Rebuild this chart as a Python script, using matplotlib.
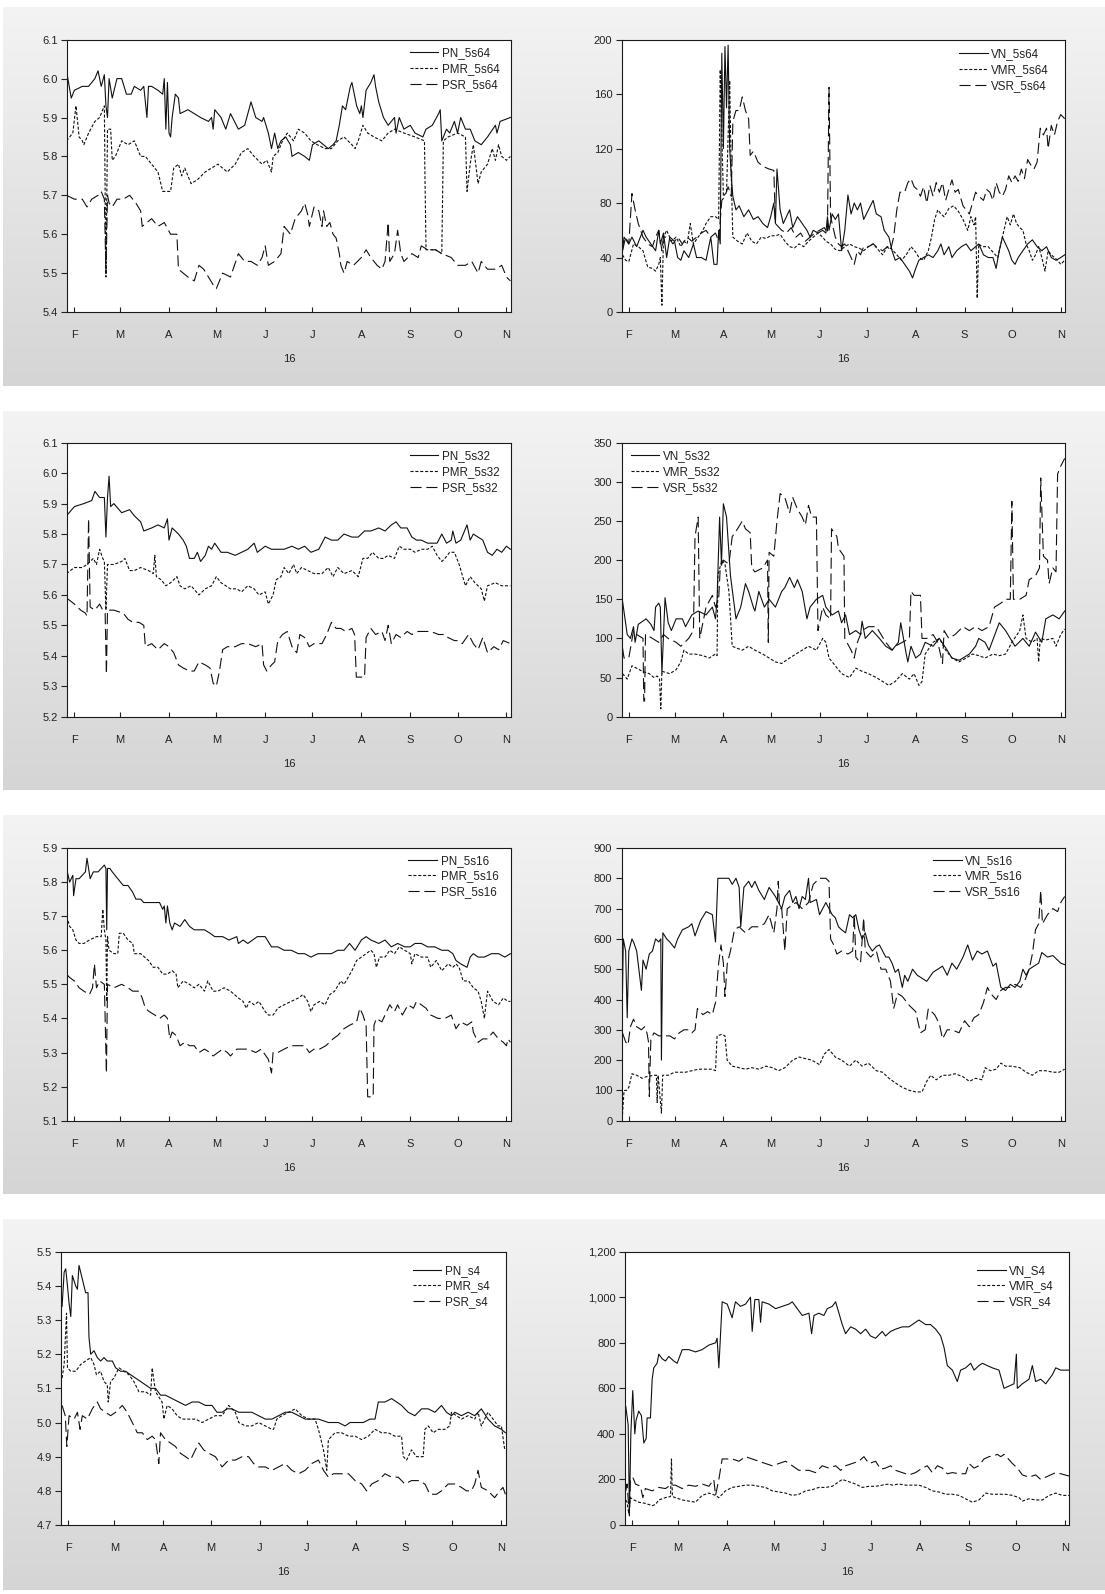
import matplotlib
matplotlib.use("Agg")
import matplotlib.pyplot as plt
import numpy as np

plt.rcParams['font.family'] = ['Liberation Sans', 'DejaVu Sans']
plt.rcParams['lines.scale_dashes'] = False

# ---------------- x axis (day of year 2016) ----------------
MONTH_DAYS = [31, 60, 91, 121, 152, 182, 213, 244, 274, 305]
MONTH_LABELS = ['F', 'M', 'A', 'M', 'J', 'J', 'A', 'S', 'O', 'N']
YEAR_LABEL = '16'
X_RANGE = (26.5, 307.7)

# ---------------- panel 1: prices 5s64 ----------------
PN_5s64 = [(26,6.02),(29,5.95),(31,5.97),(36,5.98),(40,5.98),(44,6.00),(46,6.02),(48,5.98),(50,6.01),(51,5.93),(52,5.90),(53,6.00),(55,5.95),(58,6.00),(61,6.00),(64,5.96),(67,5.96),(69,5.98),(73,5.97),(75,5.98),(77,5.90),(78,5.98),(80,5.98),(84,5.97),(87,5.96),(88,6.00),(89,5.87),(90,5.99),(91,5.86),(92,5.85),(93,5.90),(95,5.96),(97,5.95),(98,5.91),(103,5.92),(107,5.91),(111,5.90),(116,5.89),(118,5.90),(119,5.87),(120,5.92),(124,5.90),(127,5.87),(130,5.91),(135,5.87),(139,5.88),(141,5.91),(143,5.94),(146,5.90),(150,5.89),(151,5.90),(154,5.86),(156,5.82),(158,5.86),(160,5.82),(162,5.84),(165,5.85),(168,5.83),(169,5.80),(173,5.81),(177,5.80),(180,5.79),(182,5.83),(186,5.84),(189,5.83),(192,5.82),(195,5.83),(197,5.84),(199,5.88),(201,5.93),(203,5.92),(206,5.98),(207,5.99),(210,5.93),(212,5.91),(213,5.93),(214,5.90),(216,5.97),(219,5.99),(221,6.01),(222,5.98),(224,5.94),(227,5.90),(230,5.88),(234,5.90),(235,5.86),(237,5.90),(240,5.87),(244,5.88),(247,5.86),(252,5.85),(254,5.87),(258,5.88),(262,5.91),(263,5.92),(264,5.84),(267,5.87),(269,5.86),(272,5.89),(274,5.86),(276,5.90),(279,5.87),(282,5.87),(285,5.84),(289,5.83),(293,5.85),(298,5.88),(299,5.86),(301,5.89),(307.5,5.90)]
PMR_5s64 = [(26,5.84),(30,5.86),(32,5.93),(34,5.85),(36,5.84),(37,5.83),(40,5.86),(44,5.89),(47,5.90),(50,5.93),(51,5.49),(52,5.87),(54,5.87),(55,5.79),(57,5.80),(61,5.84),(65,5.83),(69,5.84),(73,5.80),(76,5.80),(80,5.78),(84,5.76),(87,5.71),(92,5.71),(94,5.77),(97,5.78),(99,5.75),(101,5.77),(105,5.73),(109,5.74),(114,5.76),(118,5.77),(122,5.78),(128,5.76),(133,5.78),(137,5.81),(141,5.82),(145,5.80),(150,5.78),(153,5.79),(156,5.76),(157,5.80),(160,5.81),(163,5.84),(166,5.86),(170,5.84),(173,5.87),(177,5.86),(181,5.84),(185,5.83),(190,5.82),(194,5.82),(198,5.84),(202,5.85),(207,5.83),(209,5.82),(211,5.84),(214,5.88),(217,5.86),(221,5.85),(226,5.84),(230,5.86),(234,5.87),(240,5.86),(247,5.85),(253,5.84),(254,5.56),(260,5.56),(264,5.55),(265,5.84),(268,5.85),(274,5.86),(279,5.85),(280,5.71),(282,5.78),(284,5.83),(287,5.73),(289,5.76),(293,5.78),(296,5.82),(298,5.79),(300,5.83),(302,5.80),(305,5.79),(307.5,5.80)]
PSR_5s64 = [(26,5.70),(31,5.69),(36,5.69),(39,5.67),(42,5.69),(46,5.70),(48,5.71),(50,5.69),(51,5.50),(52,5.70),(53,5.68),(55,5.67),(58,5.69),(62,5.69),(66,5.70),(70,5.68),(73,5.66),(74,5.62),(80,5.64),(84,5.62),(88,5.63),(92,5.60),(96,5.60),(97,5.51),(103,5.49),(107,5.48),(110,5.52),(113,5.51),(116,5.49),(119,5.47),(121,5.46),(125,5.50),(130,5.49),(135,5.55),(139,5.53),(143,5.53),(147,5.52),(150,5.54),(152,5.57),(154,5.52),(158,5.53),(162,5.55),(164,5.62),(168,5.60),(171,5.64),(175,5.66),(177,5.68),(179,5.65),(180,5.62),(183,5.67),(186,5.66),(188,5.62),(189,5.66),(191,5.62),(193,5.63),(195,5.60),(197,5.59),(199,5.55),(200,5.52),(202,5.50),(204,5.53),(208,5.52),(213,5.54),(216,5.56),(219,5.54),(223,5.52),(226,5.51),(228,5.53),(230,5.63),(231,5.53),(234,5.55),(236,5.61),(238,5.55),(240,5.53),(245,5.55),(249,5.54),(251,5.57),(255,5.56),(260,5.56),(264,5.55),(270,5.54),(274,5.52),(279,5.52),(283,5.53),(287,5.50),(289,5.53),(293,5.51),(298,5.51),(302,5.52),(305,5.49),(307.5,5.48)]

# ---------------- panel 2: volatility 5s64 ----------------
VN_5s64 = [(27,45),(28,55),(31,50),(33,55),(36,48),(40,60),(42,55),(45,50),(48,45),(50,60),(51,50),(53,58),(55,40),(57,55),(60,52),(62,40),(64,38),(66,45),(69,40),(72,50),(74,40),(77,40),(80,38),(83,55),(85,35),(87,35),(88,60),(89,50),(90,190),(91,120),(92,195),(93,150),(94,196),(95,120),(96,100),(97,85),(99,75),(101,78),(104,70),(107,75),(110,68),(113,70),(116,65),(119,62),(121,70),(123,80),(124,65),(125,105),(127,75),(129,65),(131,70),(133,75),(135,62),(138,70),(141,65),(144,60),(146,55),(148,60),(151,58),(154,60),(156,58),(157,70),(158,60),(160,72),(162,68),(164,72),(166,45),(168,60),(170,86),(172,72),(174,80),(176,75),(178,80),(180,68),(183,75),(186,82),(188,72),(191,70),(193,60),(196,55),(198,45),(200,38),(203,40),(206,35),(209,30),(211,25),(213,32),(215,38),(218,40),(221,42),(224,40),(227,45),(229,50),(231,42),(234,48),(236,40),(239,45),(242,48),(245,50),(248,45),(251,48),(253,50),(256,42),(259,40),(262,40),(264,32),(266,45),(268,55),(270,50),(272,45),(274,38),(276,35),(278,40),(281,45),(284,50),(287,53),(290,48),(293,45),(296,48),(299,40),(302,38),(305,40),(307.5,42)]
VMR_5s64 = [(27,42),(29,38),(31,37),(34,50),(37,48),(40,45),(43,33),(46,32),(48,30),(50,35),(51,40),(52,5),(53,55),(55,60),(58,52),(61,55),(64,48),(66,52),(68,50),(70,65),(72,50),(75,55),(78,60),(80,65),(83,70),(86,70),(88,68),(89,178),(91,85),(93,88),(95,170),(96,100),(97,55),(100,52),(103,50),(106,58),(109,52),(112,50),(115,55),(118,54),(121,56),(124,56),(127,57),(130,52),(133,48),(136,47),(139,50),(142,48),(145,52),(148,55),(151,58),(154,55),(156,52),(159,50),(162,46),(165,45),(168,48),(171,50),(174,48),(177,47),(180,45),(183,48),(186,50),(189,46),(192,42),(195,48),(198,46),(201,42),(204,38),(207,42),(210,48),(213,44),(215,40),(218,38),(221,45),(223,55),(225,68),(227,75),(229,72),(231,70),(234,76),(237,78),(240,74),(243,68),(246,60),(248,70),(250,64),(251,70),(252,10),(253,50),(255,48),(259,48),(262,44),(265,40),(267,50),(269,60),(271,70),(273,64),(275,72),(277,65),(279,62),(281,60),(283,50),(285,45),(287,38),(289,42),(291,48),(293,40),(295,30),(297,45),(299,42),(301,40),(303,38),(305,35),(307.5,38)]
VSR_5s64 = [(27,45),(29,55),(31,50),(33,87),(35,75),(37,65),(40,55),(43,50),(46,48),(48,55),(50,60),(52,45),(53,55),(56,55),(59,50),(62,55),(65,50),(68,55),(71,52),(74,55),(77,58),(80,60),(83,55),(86,58),(88,52),(90,82),(92,85),(94,92),(96,85),(97,140),(99,148),(101,148),(103,158),(105,148),(107,142),(108,115),(110,118),(113,110),(116,107),(120,105),(123,104),(124,65),(128,60),(131,58),(134,62),(137,55),(140,58),(143,52),(146,55),(149,58),(152,60),(155,62),(157,58),(158,165),(159,70),(162,55),(164,50),(166,48),(168,50),(170,45),(172,40),(174,35),(176,45),(178,42),(180,48),(183,48),(186,50),(189,47),(192,45),(195,48),(197,45),(199,55),(201,75),(203,88),(206,88),(208,95),(210,98),(212,92),(214,90),(216,85),(218,92),(220,80),(222,93),(224,85),(226,95),(228,88),(230,95),(232,82),(234,90),(236,97),(238,88),(240,90),(243,78),(245,75),(247,72),(249,80),(251,88),(253,85),(256,82),(258,90),(260,88),(262,82),(264,95),(266,88),(268,85),(270,90),(272,100),(274,95),(276,100),(278,96),(280,105),(282,98),(284,112),(286,108),(288,105),(290,110),(292,135),(294,130),(296,135),(297,120),(299,137),(301,130),(303,140),(305,145),(307.5,142)]

# ---------------- panel 3: prices 5s32 ----------------
PN_5s32 = [(26,5.86),(31,5.89),(37,5.90),(42,5.91),(44,5.94),(47,5.92),(50,5.92),(51,5.79),(52,5.92),(53,5.99),(54,5.89),(56,5.90),(61,5.87),(66,5.88),(69,5.86),(73,5.84),(75,5.81),(80,5.82),(84,5.83),(88,5.82),(90,5.85),(91,5.78),(93,5.82),(97,5.80),(100,5.78),(102,5.76),(104,5.72),(107,5.72),(109,5.74),(111,5.71),(114,5.73),(116,5.76),(118,5.75),(120,5.77),(124,5.74),(128,5.74),(133,5.73),(137,5.74),(141,5.75),(145,5.77),(147,5.74),(152,5.76),(156,5.75),(160,5.75),(164,5.75),(169,5.76),(173,5.75),(177,5.76),(181,5.74),(186,5.75),(190,5.79),(194,5.78),(198,5.78),(202,5.80),(207,5.79),(211,5.79),(215,5.81),(219,5.81),(224,5.82),(228,5.81),(232,5.83),(235,5.84),(238,5.82),(242,5.82),(245,5.79),(248,5.78),(251,5.78),(255,5.77),(261,5.77),(264,5.80),(267,5.77),(270,5.78),(271,5.81),(273,5.77),(276,5.78),(280,5.83),(282,5.78),(284,5.80),(287,5.79),(290,5.78),(293,5.74),(296,5.73),(299,5.75),(302,5.74),(305,5.76),(307.5,5.75)]
PMR_5s32 = [(26,5.67),(31,5.69),(36,5.69),(39,5.70),(43,5.72),(45,5.70),(47,5.75),(49,5.72),(50,5.71),(51,5.55),(52,5.70),(56,5.70),(61,5.71),(63,5.72),(66,5.68),(69,5.68),(73,5.69),(78,5.68),(81,5.67),(82,5.73),(83,5.66),(86,5.65),(89,5.63),(92,5.64),(96,5.66),(98,5.63),(101,5.62),(105,5.63),(110,5.60),(114,5.62),(118,5.63),(121,5.66),(124,5.64),(127,5.63),(130,5.62),(134,5.62),(137,5.61),(141,5.63),(145,5.62),(148,5.60),(152,5.61),(154,5.57),(157,5.60),(159,5.65),(162,5.66),(164,5.69),(167,5.67),(170,5.70),(172,5.67),(175,5.69),(179,5.68),(183,5.67),(188,5.67),(192,5.69),(195,5.66),(198,5.69),(202,5.67),(207,5.68),(211,5.66),(214,5.72),(217,5.72),(220,5.74),(224,5.72),(227,5.72),(230,5.73),(234,5.72),(237,5.76),(240,5.75),(244,5.75),(247,5.74),(251,5.75),(255,5.75),(258,5.76),(261,5.73),(264,5.71),(266,5.72),(269,5.74),(272,5.74),(275,5.70),(279,5.63),(282,5.66),(285,5.64),(289,5.62),(291,5.58),(293,5.63),(298,5.64),(302,5.63),(307.5,5.63)]
PSR_5s32 = [(26,5.59),(31,5.57),(35,5.55),(38,5.54),(39,5.53),(40,5.85),(41,5.56),(44,5.55),(47,5.57),(49,5.55),(50.5,5.54),(51.3,5.34),(52,5.55),(56,5.55),(62,5.54),(65,5.52),(68,5.51),(72,5.51),(75,5.50),(76,5.43),(80,5.44),(84,5.42),(88,5.44),(91,5.43),(94,5.41),(97,5.37),(100,5.36),(104,5.35),(107,5.35),(110,5.38),(114,5.37),(117,5.36),(119,5.31),(121,5.30),(123,5.35),(125,5.42),(128,5.43),(133,5.43),(137,5.44),(141,5.44),(146,5.43),(150,5.44),(151,5.37),(153,5.35),(156,5.37),(158,5.38),(160,5.45),(163,5.47),(166,5.48),(169,5.43),(172,5.41),(174,5.47),(177,5.46),(180,5.43),(183,5.44),(188,5.44),(191,5.47),(194,5.51),(197,5.49),(200,5.49),(203,5.48),(207,5.49),(208.7,5.47),(209.8,5.33),(213,5.33),(215,5.33),(216,5.46),(219,5.49),(222,5.47),(226,5.48),(228,5.45),(230,5.50),(232,5.44),(235,5.47),(238,5.46),(242,5.48),(245,5.47),(249,5.48),(253,5.48),(257,5.48),(262,5.47),(266,5.47),(268,5.46),(272,5.45),(274,5.45),(277,5.44),(281,5.47),(284,5.44),(287,5.42),(290,5.46),(293,5.41),(297,5.43),(300,5.42),(303,5.45),(307.5,5.44)]

# ---------------- panel 4: volatility 5s32 ----------------
VN_5s32 = [(27,148),(30,105),(32,100),(34,115),(35,95),(37,118),(42,125),(45,118),(47,110),(48,140),(50,145),(51,140),(52,55),(54,152),(56,120),(58,110),(61,125),(65,125),(67,115),(71,130),(75,135),(80,130),(84,140),(86,125),(87,150),(88.6,255),(89.8,195),(91,272),(93,255),(95.5,180),(99,125),(102,140),(105,170),(107,160),(110,140),(111,135),(113.5,160),(117,140),(120,150),(124,140),(128,160),(130,165),(133,178),(136,165),(138,175),(141,160),(144,125),(146,140),(150,150),(154,155),(156,140),(160,130),(164,135),(166,120),(168.5,130),(171,105),(175,110),(178,105),(179,122),(181,100),(185.5,110),(190,100),(194,90),(198,85),(200,90),(202,95),(203.5,120),(207,80),(208,70),(210,90),(213,75),(216,80),(219,95),(224,90),(228,100),(232,88),(236,75),(240.5,72),(247,80),(251,90),(253,100),(257,95),(259.5,85),(266,120),(270,110),(276,90),(281,100),(285,90),(289,108),(293,95),(295.5,125),(300,130),(304,125),(307.5,135)]
VMR_5s32 = [(27,55),(30,48),(33,65),(36,62),(39.5,58),(44,55),(47,50),(49,52),(50.5,48),(51.3,10),(52,58),(57,55),(61,60),(64,70),(66,85),(69,80),(73,80),(78,78),(82,75),(86,80),(87,78),(87.5,180),(90,200),(92,195),(94.5,160),(96.6,90),(99,88),(103,85),(107,90),(111,85),(116,80),(120,75),(124,70),(128,68),(133,75),(137,80),(141,85),(145,90),(150,85),(154,100),(156,95),(158,75),(162,65),(166,55),(171,50),(175,62),(179,58),(183,55),(188,50),(192,45),(196,40),(200,45),(204.5,55),(209,48),(212,55),(215,40),(217,45),(219,80),(224,95),(228,100),(232,85),(236,75),(240.5,70),(245,75),(249,80),(253,78),(257,75),(262,80),(266,78),(270,80),(274,95),(279,110),(281,130),(283,100),(287,95),(290,100),(291,70),(292,100),(295.5,98),(300,100),(302,90),(305,105),(307.5,112)]
VSR_5s32 = [(27,88),(28,75),(31,75),(34,110),(36,105),(40,100),(40.5,20),(41,20),(41.6,105),(46,100),(50,95),(53,105),(56,100),(61,95),(64,90),(69,100),(72,110),(73,230),(75,255),(76,100),(80,140),(84,155),(86,140),(88,150),(89,190),(91,200),(94.5,195),(96.6,230),(100,240),(103,250),(105,240),(108,235),(109,190),(111,185),(116,190),(119,200),(119.5,95),(120,210),(123,205),(125,250),(127,285),(130,280),(133,260),(135,280),(138,265),(141,255),(143,245),(145,270),(147,255),(150,255),(151,110),(154,140),(156,130),(159,125),(159.6,240),(163,230),(164,215),(167.5,205),(168,100),(172,85),(174,75),(176,95),(179,110),(183,115),(188,115),(191,105),(194,95),(198,85),(200,90),(204.5,95),(209,100),(210,160),(212,155),(216,155),(217,100),(220,100),(224,105),(227,95),(230,68),(231,110),(234,100),(238,105),(243,115),(247,110),(251,115),(255,110),(259.5,115),(263,140),(267,145),(270,150),(273,150),(274,275),(275,150),(279,150),(283,155),(285,175),(289,180),(291.5,190),(292.3,305),(294,205),(296.6,200),(297.6,170),(300,190),(302,185),(303,310),(305,320),(307.5,330)]

# ---------------- panel 5: prices 5s16 ----------------
PN_5s16 = [(26,5.84),(28,5.80),(30,5.82),(30.5,5.76),(32,5.81),(34,5.81),(36,5.82),(38,5.83),(39,5.87),(41,5.81),(43,5.83),(46,5.83),(48,5.84),(50,5.85),(51,5.84),(51.5,5.66),(52,5.84),(53.5,5.84),(55,5.83),(58.5,5.81),(62,5.79),(65,5.79),(68,5.77),(70,5.75),(73,5.75),(75,5.74),(80,5.74),(85,5.74),(87,5.72),(88,5.73),(89,5.68),(90,5.73),(91.5,5.68),(93,5.66),(94.5,5.68),(98,5.67),(101,5.69),(104,5.67),(107,5.66),(110,5.66),(113.5,5.66),(117,5.65),(120,5.64),(125,5.64),(129,5.63),(134,5.64),(135,5.62),(138,5.63),(141,5.62),(144,5.63),(147,5.64),(152,5.64),(156,5.61),(160,5.61),(164,5.60),(168.5,5.60),(173,5.59),(177,5.59),(181,5.58),(185.5,5.59),(190,5.59),(194,5.59),(198,5.60),(202,5.60),(205.5,5.62),(209,5.60),(213,5.63),(216,5.64),(219,5.63),(224,5.62),(228,5.63),(232,5.61),(236,5.62),(240.5,5.61),(244,5.61),(247,5.62),(251,5.62),(255,5.61),(259.5,5.61),(264,5.60),(268,5.60),(271,5.59),(273,5.57),(276,5.56),(280,5.55),(282,5.58),(284,5.59),(287,5.58),(291,5.58),(295.5,5.59),(300,5.59),(304,5.58),(307.5,5.59)]
PMR_5s16 = [(26,5.70),(28,5.67),(30,5.66),(32,5.63),(34,5.62),(37,5.62),(40.5,5.63),(45,5.64),(48,5.64),(49,5.72),(50,5.66),(51,5.63),(51.5,5.45),(52,5.64),(53,5.60),(56,5.59),(58.5,5.59),(59.5,5.65),(62,5.65),(65,5.63),(68,5.62),(69,5.59),(73,5.59),(78,5.57),(81,5.55),(84,5.55),(87,5.53),(90,5.53),(93,5.54),(95.5,5.53),(96.6,5.49),(100,5.51),(104,5.50),(107,5.49),(110,5.50),(113.5,5.48),(115.6,5.51),(119,5.48),(122,5.48),(126,5.49),(130,5.48),(135,5.46),(138,5.45),(140,5.43),(142,5.45),(145,5.44),(148,5.45),(152,5.42),(154,5.41),(157,5.41),(160,5.43),(164,5.44),(168.5,5.45),(173,5.46),(176,5.47),(179,5.45),(181,5.42),(183,5.44),(186.5,5.45),(190,5.44),(193,5.47),(196,5.48),(200,5.51),(202,5.50),(207,5.54),(210,5.57),(213,5.58),(216,5.59),(219,5.60),(221,5.59),(222.5,5.55),(224.5,5.58),(228,5.58),(231,5.60),(234,5.59),(237,5.61),(240.5,5.60),(244,5.59),(245,5.56),(247,5.59),(251,5.58),(255,5.58),(257,5.55),(260.5,5.57),(264,5.54),(268,5.56),(271,5.55),(273,5.56),(275,5.55),(277.5,5.51),(281,5.51),(284,5.49),(287,5.48),(289,5.45),(291,5.40),(293,5.48),(296.5,5.45),(300,5.44),(303,5.46),(306,5.45),(307.5,5.45)]
PSR_5s16 = [(26,5.53),(28,5.52),(31,5.51),(34,5.49),(37,5.48),(40.5,5.47),(42.5,5.49),(43.7,5.56),(45,5.49),(47,5.51),(50,5.50),(51.3,5.24),(52,5.50),(56,5.49),(61,5.50),(65,5.49),(68,5.48),(72,5.48),(74,5.46),(76,5.43),(78.5,5.42),(82,5.41),(85,5.40),(88,5.41),(90,5.40),(91.5,5.34),(93,5.36),(95.5,5.35),(98,5.32),(101,5.33),(104,5.32),(107,5.32),(110,5.30),(113.5,5.31),(117,5.30),(119,5.29),(122,5.30),(125,5.31),(128,5.30),(130,5.29),(134,5.31),(137,5.31),(141,5.31),(146,5.30),(149.5,5.31),(154,5.28),(156,5.24),(157,5.30),(160,5.30),(164,5.31),(168.5,5.32),(173,5.32),(177,5.32),(180,5.30),(183,5.31),(186.5,5.31),(190.5,5.32),(195,5.34),(198,5.35),(202,5.37),(205.5,5.38),(210,5.39),(212,5.43),(214,5.41),(216,5.38),(217,5.17),(220.5,5.17),(221,5.38),(222.5,5.40),(226,5.39),(229,5.42),(231,5.44),(234,5.42),(236,5.44),(239,5.41),(242.6,5.44),(246,5.43),(248,5.45),(251,5.44),(254,5.43),(257,5.41),(261.6,5.40),(266,5.40),(270,5.41),(273,5.37),(276,5.39),(280,5.38),(283,5.39),(284,5.36),(287,5.33),(290,5.34),(293,5.34),(296.5,5.36),(300,5.34),(303,5.33),(305,5.32),(306,5.34),(307.5,5.33)]

# ---------------- panel 6: volatility 5s16 ----------------
VN_5s16 = [(27,420),(27.5,600),(29,560),(30,340),(31,560),(33,600),(34,590),(36,560),(39,430),(40,530),(42,500),(44,550),(46,560),(48,600),(50,590),(51.3,600),(51.7,200),(52.6,620),(55,600),(57,590),(60,570),(62,600),(65,630),(69,640),(71,650),(73,610),(76.5,660),(80,690),(84,680),(86,590),(87.5,800),(90,800),(94.5,800),(96.6,780),(99,800),(101,770),(102,640),(104,770),(107,790),(109,770),(111,790),(113.5,760),(117,730),(120,770),(124,740),(128,700),(130,740),(133,760),(135,720),(137,740),(139,700),(141,740),(143,730),(145,800),(146,720),(150,730),(152,680),(154,700),(156,720),(158,700),(160,680),(162,670),(164,640),(166,630),(168.5,620),(171,680),(173,670),(175,680),(177,630),(179,600),(181,620),(183,580),(185.5,560),(188,575),(190,580),(192,560),(194,540),(196,540),(198,520),(200,490),(202,500),(204.5,440),(206,480),(208,460),(211,500),(214,480),(217,470),(220,460),(224,490),(227,500),(230,510),(233,480),(236,520),(239,500),(243,540),(246,580),(249,530),(252,560),(255,550),(258.5,560),(262,510),(264,520),(267,440),(270,430),(273,450),(276,440),(279,460),(281,500),(283,480),(285,500),(288,510),(291,520),(293,555),(296.6,540),(300,545),(303,530),(305,520),(307.5,515)]
VMR_5s16 = [(27,20),(28,100),(29.5,100),(31,110),(33,155),(36,150),(39.5,140),(42,145),(47,150),(48.5,150),(49,60),(49.6,150),(51.7,25),(52.5,150),(56,150),(60,160),(63,160),(67,160),(71,165),(75.4,170),(80,170),(84,170),(86,165),(87,280),(90,285),(92,280),(93.4,200),(96.6,180),(101,175),(105,170),(109,175),(113.5,170),(118,180),(122,175),(126,165),(130,175),(135,200),(139,210),(143,205),(147,200),(152,185),(155,220),(158,235),(162,210),(166,200),(171,180),(175,200),(179,180),(183,190),(188,165),(192,160),(196,140),(200,125),(204.5,110),(209,100),(213,95),(217,95),(220,130),(222.5,150),(226,135),(230,150),(234,150),(238,155),(243,145),(247,130),(251,140),(255,135),(257,175),(260.5,165),(264,170),(267,190),(270,180),(274,180),(279,175),(283,160),(287,150),(291,165),(295.5,165),(300,160),(304,160),(307.5,170)]
VSR_5s16 = [(27,290),(29,260),(30.5,250),(32,310),(34,335),(36,310),(39,300),(41,310),(42.5,290),(43.5,260),(44,80),(45,270),(47,290),(50,280),(52,280),(54,280),(57,280),(60,270),(63,290),(66,300),(69,300),(71,290),(73,300),(74.5,370),(78,350),(81,360),(84,350),(86,390),(88,520),(89.5,580),(91,520),(92,410),(93.5,520),(95.5,560),(98,630),(101,640),(105,620),(109,640),(113.5,640),(117,650),(120,680),(123,620),(125,700),(125.8,790),(126.7,700),(128,700),(130,560),(131.5,700),(137,720),(141,700),(145,720),(148,780),(152,800),(156,800),(158,790),(159,600),(161,580),(163,550),(166,560),(170,550),(173,560),(174,680),(175,540),(178,520),(180,670),(181,560),(184.5,540),(188,560),(191,500),(194,500),(197,460),(199,370),(201.5,420),(204.5,410),(209,380),(213,360),(216,290),(219,300),(221,370),(225,350),(228,320),(230,270),(233,300),(236,300),(240.5,290),(244,330),(247,310),(250,340),(253,350),(256,390),(258.5,440),(260.5,420),(264,400),(267,430),(270,440),(273,440),(276,450),(279.6,440),(282,460),(285,500),(287,550),(289,630),(291,650),(292.3,760),(293.4,650),(296.6,680),(300,700),(303,690),(305,720),(307.5,740)]

# ---------------- panel 7: prices s4 ----------------
PN_s4 = [(27,5.34),(28.3,5.44),(29.3,5.45),(30.4,5.40),(31.4,5.35),(32.5,5.31),(33.5,5.43),(35.6,5.40),(36.7,5.39),(37.7,5.46),(39.8,5.42),(41.9,5.38),(43.4,5.38),(44,5.25),(45.1,5.20),(47.2,5.21),(49.3,5.19),(51.4,5.18),(53.5,5.19),(55.6,5.18),(58.8,5.18),(60.9,5.16),(64,5.15),(67.2,5.15),(70.3,5.14),(73.5,5.13),(76.7,5.12),(79.8,5.11),(83,5.10),(86.1,5.10),(89.3,5.08),(92.4,5.08),(96.6,5.07),(100.9,5.06),(105.1,5.05),(109.3,5.06),(113.5,5.06),(117.7,5.05),(121.9,5.05),(125,5.03),(128.2,5.03),(131.4,5.04),(134.5,5.04),(138.8,5.03),(143,5.03),(147.1,5.03),(151.3,5.02),(155.6,5.01),(159.8,5.01),(164,5.02),(168.2,5.03),(172.4,5.03),(176.6,5.02),(180.8,5.01),(185,5.01),(189.2,5.01),(195.5,5.00),(201.8,5.00),(206.1,4.99),(209.2,5.00),(213.4,5.00),(217.6,5.00),(221.8,5.01),(225,5.01),(227.1,5.06),(231.3,5.06),(235.5,5.07),(238.7,5.06),(241.8,5.05),(246,5.03),(250.2,5.02),(254.5,5.04),(258.7,5.04),(262.9,5.03),(267.1,5.05),(270.2,5.03),(273.4,5.02),(275.5,5.03),(279.7,5.02),(283.9,5.03),(288.1,5.02),(292.3,5.04),(296.5,5.01),(300.7,4.99),(305,4.98),(307.5,4.97)]
PMR_s4 = [(27,5.13),(28.3,5.17),(29.8,5.32),(30.4,5.16),(32.5,5.15),(35.6,5.15),(38.8,5.17),(41.9,5.18),(45.1,5.19),(47.2,5.17),(48.7,5.14),(51.4,5.15),(53.5,5.12),(55.6,5.11),(56.2,5.06),(57.7,5.12),(59.8,5.13),(63,5.16),(66.1,5.15),(69.3,5.14),(72.4,5.12),(75.6,5.09),(79.8,5.09),(83,5.08),(84,5.16),(86.1,5.09),(90.3,5.06),(91.4,5.01),(93.5,5.05),(96.6,5.04),(99.8,5.02),(103,5.01),(107.2,5.01),(111.4,5.01),(115.6,5.00),(119.8,5.01),(124,5.02),(128.2,5.02),(132.4,5.05),(136.6,5.03),(138.8,5.00),(143,4.99),(147.1,4.99),(151.3,5.00),(155.6,4.99),(159.8,4.98),(160.8,4.98),(162.9,5.01),(166.1,5.02),(170.3,5.03),(174.5,5.04),(178.7,5.02),(182.9,5.01),(187.1,5.01),(189.2,4.98),(192.4,4.92),(194.5,4.86),(195.5,4.95),(199.7,4.97),(203.9,4.97),(208.2,4.96),(212.4,4.96),(216.6,4.95),(220.8,4.96),(225,4.98),(229.2,4.97),(233.4,4.97),(237.6,4.96),(241.8,4.96),(242.9,4.90),(245,4.89),(248.1,4.92),(251.3,4.90),(255.5,4.90),(256.6,4.98),(258.7,4.99),(261.8,4.97),(265,4.98),(269.2,4.98),(272.3,4.99),(273.4,5.03),(276.5,5.02),(279.7,5.01),(283.9,5.02),(288.1,5.01),(290.2,5.03),(292.3,4.99),(296.5,5.03),(299.7,5.01),(302.8,4.99),(305,4.99),(307.1,4.92)]
PSR_s4 = [(27,5.05),(29,5.02),(30,4.93),(31.4,5.02),(34.6,5.01),(36.7,5.03),(38.4,4.98),(39.8,5.02),(43,5.01),(46.1,5.04),(49.3,5.06),(51.4,5.04),(54.6,5.03),(57.7,5.02),(60.9,5.03),(65.1,5.05),(68.2,5.03),(71.4,5.00),(74.6,4.97),(77.7,4.97),(80.9,4.95),(84,4.96),(86.1,4.95),(88.2,4.88),(89.3,4.97),(92.4,4.95),(95.6,4.94),(98.7,4.93),(101.9,4.91),(105.1,4.90),(108.2,4.89),(110.3,4.91),(113.5,4.94),(116.6,4.92),(119.8,4.91),(124,4.90),(128.2,4.87),(132.4,4.89),(136.6,4.89),(140.9,4.90),(145,4.90),(148.2,4.88),(151.3,4.87),(155.6,4.87),(159.8,4.86),(164,4.87),(168.2,4.88),(172.4,4.86),(176.6,4.85),(180.8,4.86),(185,4.88),(189.2,4.89),(192.4,4.86),(195.5,4.84),(198.7,4.85),(203.9,4.85),(208.2,4.85),(212.4,4.83),(216.6,4.82),(219.7,4.80),(222.9,4.82),(227.1,4.83),(231.3,4.85),(235.5,4.84),(239.7,4.84),(243.9,4.82),(248.1,4.83),(252.4,4.83),(256.6,4.82),(259.7,4.79),(263.9,4.79),(267.1,4.80),(271.3,4.82),(275.5,4.82),(279.7,4.81),(282.8,4.80),(286,4.80),(288.1,4.82),(290.2,4.86),(292.3,4.81),(296.5,4.80),(300.7,4.78),(303.9,4.80),(306,4.81),(307.5,4.79)]

# ---------------- panel 8: volatility s4 ----------------
VN_S4 = [(27,520),(28.5,440),(29.3,50),(30.2,400),(31.4,590),(32.7,400),(33.5,460),(35.2,500),(36.9,480),(38.4,360),(39.9,380),(40.5,470),(42.6,470),(43.7,640),(44.7,690),(46.8,710),(47.9,750),(50,730),(52.1,720),(54.2,740),(57.4,720),(59.5,710),(62.7,770),(66.9,770),(71.1,760),(75.3,770),(79.6,790),(83.8,800),(84.8,820),(85.9,690),(88,980),(91.2,970),(94.3,910),(96.4,980),(99.6,960),(102.8,970),(105.9,1000),(107,850),(108.7,990),(111.2,990),(112.3,890),(113.3,980),(117.6,970),(121.8,950),(126,960),(130.3,970),(132.4,980),(135.5,950),(138.7,920),(142.9,930),(144.6,840),(146.1,920),(149.2,930),(152.4,920),(154.5,950),(157.7,960),(159.8,980),(161.9,930),(164,880),(166.1,840),(169.3,870),(172.4,860),(175.6,840),(178.8,860),(181.9,830),(185.1,820),(189.3,850),(191.4,830),(194.6,850),(197.8,860),(202,870),(206.2,870),(210.4,890),(212.5,900),(216.8,880),(219.9,880),(223.1,860),(226.3,830),(228.4,780),(230.5,700),(233.7,680),(236.8,630),(238.9,680),(242.1,690),(245.3,710),(247.4,680),(250.5,700),(252.7,710),(255.8,700),(259,690),(263.2,680),(266.4,600),(269.5,610),(272.7,620),(274.2,750),(274.8,600),(278,620),(282.2,640),(284.3,700),(286.4,630),(289.6,640),(292.8,620),(297,660),(299.1,690),(302.3,680),(307.5,680)]
VMR_s4 = [(27,110),(27.8,100),(28.9,50),(29.9,120),(32.1,110),(35.2,100),(39.4,95),(43.7,85),(45.8,90),(47.9,110),(52.1,120),(55.3,125),(55.9,290),(56.5,125),(58.4,120),(62.7,110),(66.9,105),(71.1,100),(75.3,130),(79.6,140),(83.8,130),(85.9,120),(90.1,150),(94.3,165),(98.6,170),(102.8,175),(107,175),(111.2,170),(115.4,165),(119.7,150),(123.9,145),(128.1,140),(132.4,130),(136.6,135),(140.8,150),(145,155),(149.2,165),(153.4,165),(157.7,170),(161.9,190),(164,200),(168.2,190),(172.4,180),(176.7,165),(180.9,170),(185.1,170),(189.3,175),(193.5,180),(195.7,175),(199.9,180),(204.1,175),(208.3,175),(212.5,175),(216.8,165),(221,150),(225.2,145),(229.4,135),(233.7,135),(237.9,130),(242.1,115),(246.3,100),(250.5,110),(254.8,140),(259,135),(263.2,135),(267.4,135),(271.7,130),(275.9,120),(278,105),(282.2,115),(286.4,110),(290.7,110),(294.9,130),(299.1,140),(303.3,130),(307.5,130)]
VSR_s4 = [(27,150),(27.8,180),(29.3,40),(29.9,200),(31.4,210),(33.1,180),(36.3,170),(37.8,120),(39.4,160),(43.7,150),(47.9,165),(52.1,160),(55.3,175),(58.4,175),(62.7,160),(66.9,175),(71.1,170),(75.3,180),(79.6,170),(82.7,200),(83.8,130),(85.9,200),(88,290),(90.1,290),(94.3,290),(98.6,280),(102.8,300),(107,290),(111.2,280),(115.4,270),(119.7,260),(123.9,270),(128.1,280),(132.4,260),(136.6,240),(142.9,240),(147.1,230),(151.3,260),(155.5,250),(159.8,260),(163,240),(166.1,260),(170.3,270),(174.5,280),(177.7,300),(180.9,270),(185.1,280),(188.3,245),(191.4,250),(194.6,260),(197.8,240),(202,230),(206.2,220),(210.4,230),(214.7,250),(217.8,260),(221,230),(224.2,260),(227.3,250),(230.5,225),(233.7,230),(237.9,225),(242.1,225),(244.2,270),(247.4,250),(250.5,260),(253.7,290),(256.9,300),(260.1,305),(262.2,310),(264.3,300),(266.4,310),(268.5,295),(271.7,270),(274.8,250),(278,220),(282.2,210),(286.4,220),(289.6,200),(292.8,210),(295.9,220),(299.1,230),(302.3,225),(307.5,215)]

# ---------------- panel definitions ----------------
PANELS = [
    dict(names=['PN_5s64', 'PMR_5s64', 'PSR_5s64'], data=[PN_5s64, PMR_5s64, PSR_5s64],
         ylim=(5.4, 6.1), ystep=0.1, fmt='{:.1f}', leg='upper right', anchor=(0.975, 0.972)),
    dict(names=['VN_5s64', 'VMR_5s64', 'VSR_5s64'], data=[VN_5s64, VMR_5s64, VSR_5s64],
         ylim=(0, 200), ystep=40, fmt='{:.0f}', leg='upper right', anchor=(0.964, 0.968)),
    dict(names=['PN_5s32', 'PMR_5s32', 'PSR_5s32'], data=[PN_5s32, PMR_5s32, PSR_5s32],
         ylim=(5.2, 6.1), ystep=0.1, fmt='{:.1f}', leg='upper right', anchor=(0.975, 0.972)),
    dict(names=['VN_5s32', 'VMR_5s32', 'VSR_5s32'], data=[VN_5s32, VMR_5s32, VSR_5s32],
         ylim=(0, 350), ystep=50, fmt='{:.0f}', leg='upper left', anchor=(0.02, 0.972)),
    dict(names=['PN_5s16', 'PMR_5s16', 'PSR_5s16'], data=[PN_5s16, PMR_5s16, PSR_5s16],
         ylim=(5.1, 5.9), ystep=0.1, fmt='{:.1f}', leg='upper right', anchor=(0.972, 0.975)),
    dict(names=['VN_5s16', 'VMR_5s16', 'VSR_5s16'], data=[VN_5s16, VMR_5s16, VSR_5s16],
         ylim=(0, 900), ystep=100, fmt='{:.0f}', leg='upper right', anchor=(0.905, 0.975)),
    dict(names=['PN_s4', 'PMR_s4', 'PSR_s4'], data=[PN_s4, PMR_s4, PSR_s4],
         ylim=(4.7, 5.5), ystep=0.1, fmt='{:.1f}', leg='upper right', anchor=(0.964, 0.952)),
    dict(names=['VN_S4', 'VMR_s4', 'VSR_s4'], data=[VN_S4, VMR_s4, VSR_s4],
         ylim=(0, 1200), ystep=200, fmt='{:,.0f}', leg='upper right', anchor=(0.966, 0.952)),
]

# layout (pixels)
W, H = 1105, 1594
AX_BOXES = [
    (67.3, 39.7, 510.7, 312.0), (621.7, 39.7, 1065.0, 312.0),
    (67.3, 442.7, 510.7, 716.7), (621.7, 442.7, 1065.0, 716.7),
    (67.3, 848.0, 510.7, 1120.7), (621.7, 848.0, 1065.0, 1120.7),
    (61.3, 1251.7, 505.7, 1525.0), (625.0, 1251.7, 1069.3, 1525.0),
]
ROW_BOXES = [(3, 7, 1105, 386), (3, 411, 1105, 790), (3, 815, 1105, 1194), (3, 1219, 1105, 1590)]

STYLES = ['-', (0, (2.2, 1.3)), (0, (8.0, 3.4))]
LINE_COLOR = '#111111'
TEXT_COLOR = '#222222'
FS = 8.0
LEG_FS = 8.4

fig = plt.figure(figsize=(W / 100, H / 100), dpi=100)
fig.patch.set_facecolor('white')

def fig_rect(x0, y0, x1, y1):
    return [x0 / W, 1 - y1 / H, (x1 - x0) / W, (y1 - y0) / H]

# gradient backgrounds
grad = np.linspace(0.955, 0.835, 256).reshape(-1, 1)
grad_rgb = np.dstack([grad, grad, grad])
for box in ROW_BOXES:
    bg = fig.add_axes(fig_rect(*box), zorder=0)
    bg.imshow(grad_rgb, aspect='auto', interpolation='bilinear')
    bg.set_axis_off()

for spec, box in zip(PANELS, AX_BOXES):
    ax = fig.add_axes(fig_rect(*box), zorder=2)
    ax.set_facecolor('white')
    handles = []
    for series, name, ls in zip(spec['data'], spec['names'], STYLES):
        d = np.array(series, dtype=float)
        ln, = ax.plot(d[:, 0], d[:, 1], color=LINE_COLOR, lw=0.8, linestyle=ls, label=name)
        handles.append(ln)
    ax.set_xlim(*X_RANGE)
    lo, hi = spec['ylim']
    ax.set_ylim(lo, hi)
    yt = np.arange(lo, hi + spec['ystep'] / 2, spec['ystep'])
    ax.set_yticks(yt)
    ax.set_yticklabels([spec['fmt'].format(v) for v in yt])
    ax.set_xticks(MONTH_DAYS)
    ax.set_xticklabels(MONTH_LABELS)
    ax.tick_params(axis='y', direction='out', length=4.3, width=0.8, pad=2.5,
                   labelsize=FS, colors=TEXT_COLOR)
    ax.tick_params(axis='x', direction='in', length=3.5, width=0.8, pad=13.0,
                   labelsize=FS, colors=TEXT_COLOR)
    for sp in ax.spines.values():
        sp.set_color('#1a1a1a')
        sp.set_linewidth(0.8)
    ax.annotate(YEAR_LABEL, xy=(0.5, 0), xycoords='axes fraction', xytext=(0, -47),
                textcoords='offset pixels', ha='center', va='center', fontsize=FS,
                color=TEXT_COLOR)
    ax.legend(handles=handles, loc=spec['leg'], bbox_to_anchor=spec['anchor'],
              frameon=False, fontsize=LEG_FS, handlelength=2.45, handletextpad=0.3,
              labelspacing=0.32, borderpad=0, borderaxespad=0, labelcolor=TEXT_COLOR)

fig.savefig('out.png', dpi=100, facecolor='white')
